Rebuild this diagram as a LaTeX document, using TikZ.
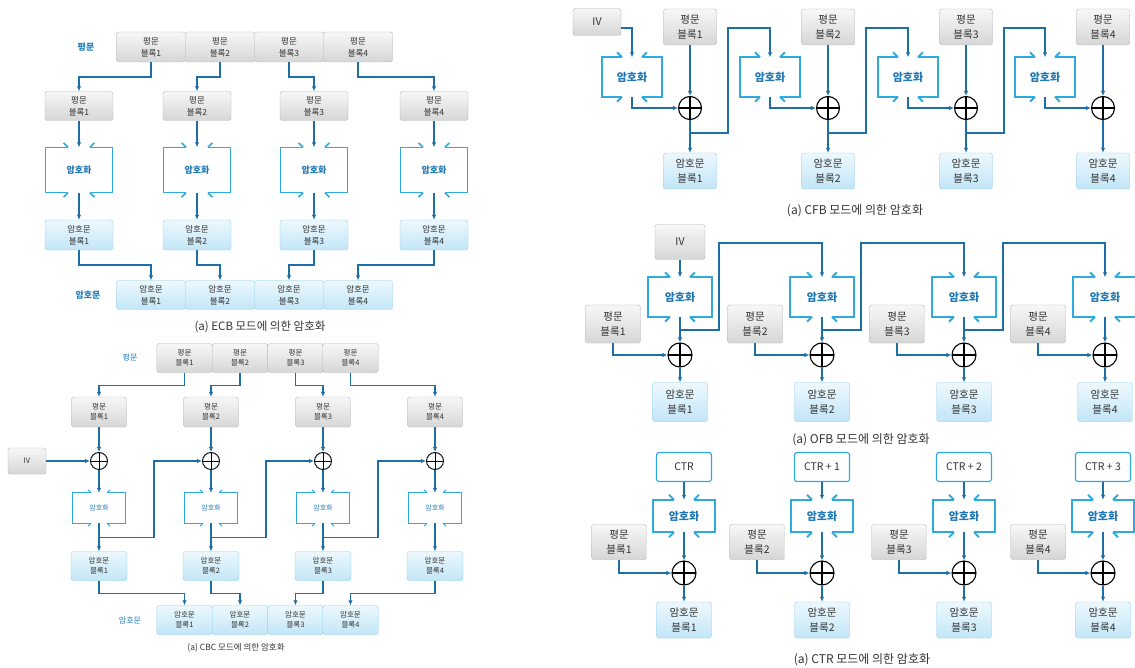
\documentclass[tikz,border=0pt]{standalone}
\usepackage{fontspec}
\setmainfont{Noto Sans CJK KR}
\usetikzlibrary{arrows.meta,calc,shadings}
\definecolor{arrc}{HTML}{1D6FA5}
\definecolor{encc}{HTML}{2FAAE0}
\definecolor{enct}{HTML}{1F78B4}
\definecolor{labc}{HTML}{1F80C0}
\definecolor{pdraw}{HTML}{B4B4B4}
\definecolor{ptop}{HTML}{F7F7F7}
\definecolor{pbot}{HTML}{D6D6D6}
\definecolor{cdraw}{HTML}{8FCFEC}
\definecolor{ctop}{HTML}{EDF8FD}
\definecolor{cbot}{HTML}{C2E6F7}
\definecolor{boxt}{HTML}{333333}
\tikzset{
  base/.style={rectangle, rounded corners=2.5pt, align=center, inner sep=0pt, text=boxt},
  pbox/.style={base, draw=pdraw, top color=ptop, bottom color=pbot},
  cbox/.style={base, draw=cdraw, top color=ctop, bottom color=cbot},
  ctrbox/.style={base, draw=encc, fill=white, line width=1.2pt},
  encnode/.style={rectangle, inner sep=0pt, text=enct},
  xor/.style={circle, draw=black, line width=#1, inner sep=0pt,
    path picture={\draw[black,line width=#1] (path picture bounding box.north) -- (path picture bounding box.south) (path picture bounding box.west) -- (path picture bounding box.east);}},
  xor/.default=1pt,
  arr/.style={draw=arrc, line width=#1, line join=miter, -{Latex[length=5pt,width=4.5pt]}},
  arr/.default=1.8pt,
  side/.style={text=labc},
  captext/.style={text=boxt},
  fa/.style={font=\fontsize{8.5}{12}\selectfont},
  fb/.style={font=\fontsize{7.5}{10}\selectfont},
  fc/.style={font=\fontsize{10.5}{15}\selectfont},
}
\newcommand\encdraw[4]{%
  \draw[encc, line width=#4, line join=miter, line cap=butt]
    ([xshift=-#2]#1.north) -- (#1.north west) -- (#1.south west) -- ([xshift=-#2]#1.south)
    ([xshift=#2]#1.north) -- (#1.north east) -- (#1.south east) -- ([xshift=#2]#1.south);
  \draw[encc, line width=#4]
    ([xshift=-#2]#1.north) -- ++(-#3,#3)
    ([xshift=#2]#1.north) -- ++(#3,#3)
    ([xshift=-#2]#1.south) -- ++(-#3,-#3)
    ([xshift=#2]#1.south) -- ++(#3,-#3);
}
\begin{document}
\begin{tikzpicture}[x=1pt,y=-1pt]
\useasboundingbox (0,0) rectangle (1135,668);
\fill[white] (0,0) rectangle (1135,668);

% ================= ECB =================
\node[side, font=\bfseries\fontsize{9}{11}\selectfont] (eLp) at (86,47) {평문};
\node[side, font=\bfseries\fontsize{9}{11}\selectfont] (eLc) at (88,295) {암호문};
\foreach \i/\tx/\mx in {1/151/79, 2/220/197, 3/289/314, 4/358/434} {
  \node[pbox, fa, minimum width=69pt, minimum height=30pt] (eT\i) at (\tx,47) {평문\\블록\i};
  \node[pbox, fa, minimum width=68pt, minimum height=29pt] (eQ\i) at (\mx,106) {평문\\블록\i};
  \node[encnode, font=\bfseries\fontsize{9}{10}\selectfont, minimum width=67pt, minimum height=45pt] (eE\i) at (\mx,170) {암호화};
  \encdraw{eE\i}{11pt}{4.5pt}{1.5pt}
  \node[cbox, fa, minimum width=68pt, minimum height=30pt] (eC\i) at (\mx,235) {암호문\\블록\i};
  \node[cbox, fa, minimum width=69pt, minimum height=29pt] (eB\i) at (\tx,295) {암호문\\블록\i};
  \draw[arr] (eT\i.south) -- ++(0,15) -| (eQ\i.north);
  \draw[arr] (eQ\i.south) -- (eE\i.north);
  \draw[arr] (eE\i.south) -- (eC\i.north);
  \draw[arr] (eC\i.south) -- ++(0,15) -| (eB\i.north);
}
\node[captext, font=\fontsize{11.5}{13}\selectfont] (eCap) at (260,327) {(a) ECB 모드에 의한 암호화};

% ================= CBC =================
\node[side, font=\fontsize{8}{10}\selectfont] (bLp) at (130,357) {평문};
\node[side, font=\fontsize{8}{10}\selectfont] (bLc) at (130,620) {암호문};
\node[pbox, fb, minimum width=38pt, minimum height=26pt] (bIV) at (27,461) {IV};
\foreach \i/\tx/\mx in {1/184.5/99, 2/240/211, 3/295.5/323, 4/350.5/435} {
  \node[pbox, fb, minimum width=55.5pt, minimum height=29pt] (bT\i) at (\tx,358) {평문\\블록\i};
  \node[pbox, fb, minimum width=55pt, minimum height=30pt] (bQ\i) at (\mx,412) {평문\\블록\i};
  \node[xor=0.9pt, minimum size=17pt] (bX\i) at (\mx,461) {};
  \node[encnode, font=\fontsize{7}{9}\selectfont, minimum width=53pt, minimum height=30pt] (bE\i) at (\mx,508) {암호화};
  \encdraw{bE\i}{8pt}{3pt}{1pt}
  \node[cbox, fb, minimum width=56pt, minimum height=29pt] (bC\i) at (\mx,566) {암호문\\블록\i};
  \node[cbox, fb, minimum width=55.5pt, minimum height=29pt] (bB\i) at (\tx,620) {암호문\\블록\i};
  \draw[arr=1.2pt] (bT\i.south) -- ++(0,13) -| (bQ\i.north);
  \draw[arr=1.2pt] (bQ\i.south) -- (bX\i.north);
  \draw[arr=1.2pt] (bX\i.south) -- (bE\i.north);
  \draw[arr=1.2pt] (bE\i.south) -- (bC\i.north);
  \draw[arr=1.2pt] (bC\i.south) -- ++(0,12.5) -| (bB\i.north);
  \coordinate (bF\i) at ($(bE\i.south)!0.5!(bC\i.north)$);
}
\draw[arr=1.2pt] (bIV.east) -- (bX1.west);
\foreach \i/\j in {1/2,2/3,3/4} {
  \draw[arr=1.2pt] (bF\i) -- ++(55,0) |- (bX\j.west);
}
\node[captext, font=\fontsize{8.5}{10}\selectfont] (bCap) at (236,648) {(a) CBC 모드에 의한 암호화};

% ================= CFB =================
\node[pbox, fc, minimum width=48pt, minimum height=27pt] (cIV) at (597,22) {IV};
\foreach \i/\x in {1/690, 2/828, 3/966, 4/1103} {
  \node[pbox, fc, minimum width=53pt, minimum height=36pt] (cP\i) at (\x,27) {평문\\블록\i};
  \node[encnode, font=\bfseries\fontsize{11}{13}\selectfont, minimum width=59pt, minimum height=39pt] (cE\i) at (\x-58,77) {암호화};
  \encdraw{cE\i}{10pt}{5pt}{2pt}
  \node[xor=1.1pt, minimum size=23pt] (cX\i) at (\x,108) {};
  \node[cbox, fc, minimum width=53pt, minimum height=36pt] (cC\i) at (\x,171) {암호문\\블록\i};
  \draw[arr=2pt] (cP\i.south) -- (cX\i.north);
  \draw[arr=2pt] (cE\i.south) |- (cX\i.west);
  \draw[arr=2pt] (cX\i.south) -- (cC\i.north);
  \coordinate (cF\i) at ($(cX\i.south)!0.4!(cC\i.north)$);
}
\draw[arr=2pt] ([yshift=-6pt]cIV.east) -| (cE1.north);
\foreach \i/\j in {1/2,2/3,3/4} {
  \draw[arr=2pt] (cF\i) -- ++(38,0) -- ++(0,-105) -| (cE\j.north);
}
\node[captext, font=\fontsize{12}{14}\selectfont] (cCap) at (855,211) {(a) CFB 모드에 의한 암호화};

% ================= OFB =================
\node[pbox, fc, minimum width=50pt, minimum height=35pt] (oIV) at (680,242) {IV};
\foreach \i/\x in {1/680, 2/822, 3/964, 4/1105} {
  \node[encnode, font=\bfseries\fontsize{11}{13}\selectfont, minimum width=63pt, minimum height=39pt] (oE\i) at (\x,297) {암호화};
  \encdraw{oE\i}{10pt}{5pt}{2pt}
  \node[pbox, fc, minimum width=55pt, minimum height=38pt] (oP\i) at (\x-67,324) {평문\\블록\i};
  \node[xor=1.1pt, minimum size=24pt] (oX\i) at (\x,355) {};
  \node[cbox, fc, minimum width=55pt, minimum height=39pt] (oC\i) at (\x,402) {암호문\\블록\i};
  \draw[arr=2pt] (oE\i.south) -- (oX\i.north);
  \draw[arr=2pt] (oP\i.south) |- (oX\i.west);
  \draw[arr=2pt] (oX\i.south) -- (oC\i.north);
  \coordinate (oG\i) at ($(oE\i.south)!0.5!(oX\i.north)$);
}
\draw[arr=2pt] (oIV.south) -- (oE1.north);
\foreach \i/\j in {1/2,2/3,3/4} {
  \draw[arr=2pt] (oG\i) -- ++(39,0) -- ++(0,-87) -| (oE\j.north);
}
\node[captext, font=\fontsize{12}{14}\selectfont] (oCap) at (861,440) {(a) OFB 모드에 의한 암호화};

% ================= CTR =================
\foreach \i/\x/\t in {1/684/CTR, 2/822/CTR + 1, 3/964/CTR + 2, 4/1103/CTR + 3} {
  \node[ctrbox, fc, minimum width=55pt, minimum height=29pt] (tR\i) at (\x,467) {\t};
  \node[encnode, font=\bfseries\fontsize{11}{13}\selectfont, minimum width=62pt, minimum height=32pt] (tE\i) at (\x,516) {암호화};
  \encdraw{tE\i}{10pt}{5pt}{2pt}
  \node[pbox, fc, minimum width=55pt, minimum height=35pt] (tP\i) at (\x-65,542) {평문\\블록\i};
  \node[xor=1.1pt, minimum size=24pt] (tX\i) at (\x,573) {};
  \node[cbox, fc, minimum width=55pt, minimum height=36pt] (tC\i) at (\x,620) {암호문\\블록\i};
  \draw[arr=2pt] (tR\i.south) -- (tE\i.north);
  \draw[arr=2pt] (tE\i.south) -- (tX\i.north);
  \draw[arr=2pt] (tP\i.south) |- (tX\i.west);
  \draw[arr=2pt] (tX\i.south) -- (tC\i.north);
}
\node[captext, font=\fontsize{12}{14}\selectfont] (tCap) at (862,660) {(a) CTR 모드에 의한 암호화};
\end{tikzpicture}
\end{document}
